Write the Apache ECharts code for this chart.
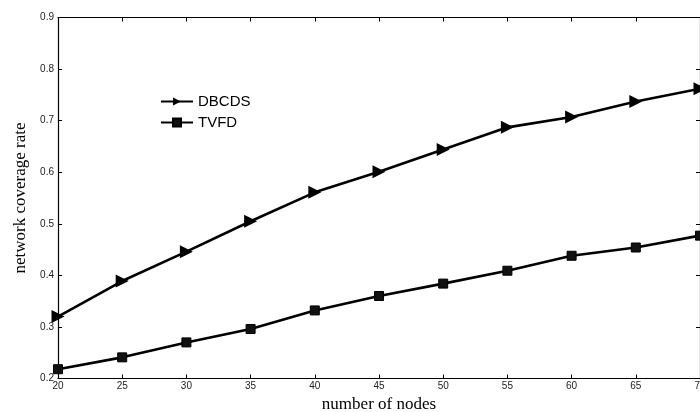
<!DOCTYPE html>
<html><head><meta charset="utf-8">
<script src="https://cdn.jsdelivr.net/npm/echarts@6/dist/echarts.min.js"></script>
<style>html,body{margin:0;padding:0;background:#fff}#c{width:700px;height:412px}</style>
</head><body><div id="c"></div>
<script>
const nodes = [20, 25, 30, 35, 40, 45, 50, 55, 60, 65, 70];
const dbcds = [0.32, 0.389, 0.446, 0.505, 0.561, 0.601, 0.644, 0.687, 0.707, 0.737, 0.762];
const tvfd = [0.218, 0.241, 0.27, 0.296, 0.332, 0.36, 0.384, 0.409, 0.438, 0.454, 0.477];
const yTicks = [0.2, 0.3, 0.4, 0.5, 0.6, 0.7, 0.8, 0.9];

const chart = echarts.init(document.getElementById('c'), null, {renderer: 'canvas'});
const tickLabel = {fontFamily: 'Liberation Sans, Arial, sans-serif', fontSize: 10, color: '#222'};
const axisLine = {show: true, lineStyle: {color: '#000', width: 1.2}};
const axisTick = {show: true, inside: true, length: 4, lineStyle: {color: '#000', width: 1}};
chart.setOption({
  animation: false,
  backgroundColor: '#fff',
  grid: {left: 58, top: 17.5, width: 642, bottom: 33.5, containLabel: false, outerBoundsMode: 'none'},
  legend: {
    left: 160, top: 94, orient: 'vertical', itemWidth: 32, itemHeight: 10, itemGap: 6, padding: 0,
    textStyle: {fontFamily: 'Liberation Sans, Arial, sans-serif', fontSize: 15, color: '#000', padding: [0, 0, 0, 0]},
    data: ['DBCDS', 'TVFD']
  },
  xAxis: [{
    type: 'value', min: 20, max: 70, interval: 5,
    name: 'number of nodes', nameLocation: 'middle', nameGap: 16,
    nameTextStyle: {fontFamily: 'Liberation Serif, Times New Roman, serif', fontSize: 17, color: '#000'},
    axisLine: axisLine, axisTick: axisTick,
    axisLabel: Object.assign({margin: 3}, tickLabel),
    splitLine: {show: false}
  }, {
    type: 'value', min: 20, max: 70, interval: 5, position: 'top',
    axisLine: axisLine, axisTick: axisTick, axisLabel: {show: false}, splitLine: {show: false}
  }],
  yAxis: [{
    type: 'value', min: 0.2, max: 0.9, interval: 0.1,
    name: 'network coverage rate', nameLocation: 'middle', nameGap: 29,
    nameTextStyle: {fontFamily: 'Liberation Serif, Times New Roman, serif', fontSize: 17, color: '#000'},
    axisLine: axisLine, axisTick: axisTick,
    axisLabel: Object.assign({margin: 4, formatter: v => {const t = yTicks.find(k => Math.abs(k - v) < 1e-6); return t === undefined ? '' : String(t);}}, tickLabel),
    splitLine: {show: false}
  }, {
    type: 'value', min: 0.2, max: 0.9, interval: 0.1, position: 'right',
    axisLine: axisLine, axisTick: axisTick, axisLabel: {show: false}, splitLine: {show: false}
  }],
  series: [{
    name: 'DBCDS', type: 'line',
    data: nodes.map((x, i) => [x, dbcds[i]]),
    symbol: 'triangle', symbolSize: 13, symbolRotate: -90,
    lineStyle: {color: '#000', width: 2.6},
    itemStyle: {color: '#000'},
    z: 3
  }, {
    name: 'TVFD', type: 'line',
    data: nodes.map((x, i) => [x, tvfd[i]]),
    symbol: 'rect', symbolSize: 9,
    lineStyle: {color: '#000', width: 2.6},
    itemStyle: {color: '#111', borderColor: '#000', borderWidth: 1},
    z: 3
  }]
});
</script></body></html>
